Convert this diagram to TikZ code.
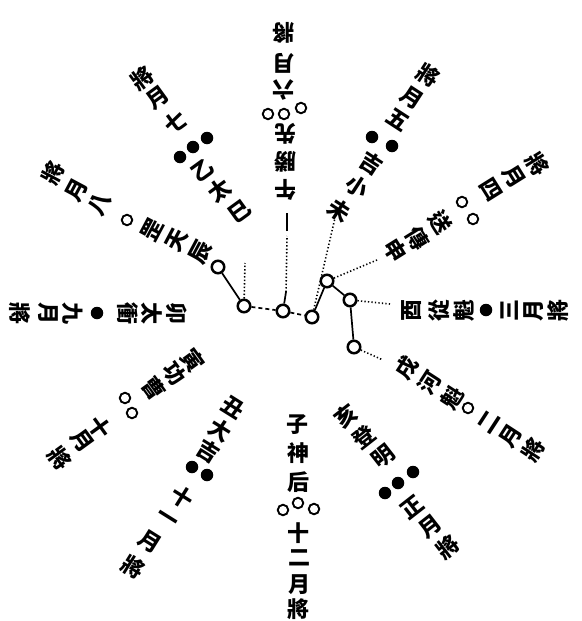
\documentclass[tikz,border=0pt]{standalone}
\usepackage{fontspec}
\newfontfamily\cjk{Noto Sans CJK TC}
\begin{document}
\begin{tikzpicture}[x=1pt,y=-1pt,
  ch/.style={font=\cjk\bfseries\fontsize{22}{22}\selectfont, inner sep=0pt, anchor=center},
  oc/.style={circle, draw, line width=1.9pt, minimum size=10.5pt, inner sep=0pt},
  fc/.style={circle, fill, minimum size=12.5pt, inner sep=0pt},
  cc/.style={circle, draw, line width=2.5pt, minimum size=12.5pt, inner sep=0pt, fill=white},
  solidln/.style={line width=1.7pt},
  dashln/.style={line width=1.7pt, dash pattern=on 4pt off 3pt},
  dotln/.style={line width=1.6pt, dash pattern=on 1.3pt off 2.2pt}]
\useasboundingbox (0,0) rectangle (581,621);
\fill[white] (0,0) rectangle (581,621);

% ---- rays of text ----
% 子 (bottom)
\foreach \c/\x/\y [count=\i] in {子/297/425,神/298/453,后/298/482,十/298/533,二/299/558,月/299/585,將/298/609}
  \node[ch,rotate=0] (zi\i) at (\x,\y) {\c};
\node[oc] (zio1) at (283,510) {};
\node[oc] (zio2) at (298,503) {};
\node[oc] (zio3) at (314,509) {};

% 丑
\foreach \c/\x/\y [count=\i] in {丑/233/407,大/220/430,吉/208/451,十/182/497,一/167/520,月/150/542,將/133/567}
  \node[ch,rotate=-32] (ch\i) at (\x,\y) {\c};
\node[fc] (chf1) at (192,467) {};
\node[fc] (chf2) at (207,475) {};

% 寅
\foreach \c/\x/\y [count=\i] in {寅/193/360,功/175/374,曹/154/388,十/100/427,月/82/441,將/60/458}
  \node[ch,rotate=-54] (yi\i) at (\x,\y) {\c};
\node[oc] (yio1) at (125,398) {};
\node[oc] (yio2) at (132,413) {};

% 卯
\foreach \c/\x/\y [count=\i] in {卯/177/313,太/152/313,衝/128/313,九/73/313,月/48/313,將/20/313}
  \node[ch,rotate=-90] (mao\i) at (\x,\y) {\c};
\node[fc] (maof1) at (97,313) {};

% 辰
\foreach \c/\x/\y [count=\i] in {辰/201/252,天/177/240,罡/152/230,八/100/204,月/77/190,將/53/173}
  \node[ch,rotate=62] (chen\i) at (\x,\y) {\c};
\node[oc] (cheno1) at (127,220) {};

% 巳
\foreach \c/\x/\y [count=\i] in {巳/240/212,太/220/190,乙/203/170,七/175/122,月/158/98,將/142/78}
  \node[ch,rotate=36] (si\i) at (\x,\y) {\c};
\node[fc] (sif1) at (180,157) {};
\node[fc] (sif2) at (193,147) {};
\node[fc] (sif3) at (207,138) {};

% 午 (top)
\foreach \c/\x/\y [count=\i] in {午/285/190,勝/285/162,先/285/134,六/283/90,月/283/63,將/283/33}
  \node[ch,rotate=180] (wu\i) at (\x,\y) {\c};
\node[oc] (wuo1) at (268,114) {};
\node[oc] (wuo2) at (284,114) {};
\node[oc] (wuo3) at (301,108) {};

% 未
\foreach \c/\x/\y [count=\i] in {未/339/210,小/357/187,吉/371/163,五/398/120,月/412/98,將/428/75}
  \node[ch,rotate=-33] (wei\i) at (\x,\y) {\c};
\node[fc] (weif1) at (372,137) {};
\node[fc] (weif2) at (392,146) {};

% 申
\foreach \c/\x/\y [count=\i] in {申/395/250,傳/417/238,送/440/222,四/491/190,月/514/177,將/537/164}
  \node[ch,rotate=-58] (shen\i) at (\x,\y) {\c};
\node[oc] (sheno1) at (462,202) {};
\node[oc] (sheno2) at (473,219) {};

% 酉
\foreach \c/\x/\y [count=\i] in {酉/412/310,從/439/310,魁/464/310,三/510/310,月/534/310,將/558/310}
  \node[ch,rotate=90] (you\i) at (\x,\y) {\c};
\node[fc] (youf1) at (486,310) {};

% 戌
\foreach \c/\x/\y [count=\i] in {戌/407/368,河/430/383,魁/452/398,二/489/422,月/511/436,將/533/450}
  \node[ch,rotate=57] (xu\i) at (\x,\y) {\c};
\node[oc] (xuo1) at (468,408) {};

% 亥
\foreach \c/\x/\y [count=\i] in {亥/346/416,登/364/437,明/383/457,正/412/507,月/430/527,將/448/547}
  \node[ch,rotate=38] (hai\i) at (\x,\y) {\c};
\node[fc] (haif1) at (413,472) {};
\node[fc] (haif2) at (398,483) {};
\node[fc] (haif3) at (385,493) {};

% ---- central figure ----
\node[cc] (p1) at (218,267) {};
\node[cc] (pb) at (244,306) {};
\node[cc] (pc) at (283,311) {};
\node[cc] (pd) at (312,317) {};
\node[cc] (pe) at (327,281) {};
\node[cc] (pf) at (350,300) {};
\node[cc] (pg) at (354,347) {};

\coordinate (bt) at (245,263);
\coordinate (cs) at (286,292);
\coordinate (ct) at (287,236);
\coordinate (ch1) at (287,231);
\coordinate (ch2) at (287,213);
\coordinate (dt) at (335,218);
\coordinate (et) at (377,260);
\coordinate (ft) at (390,304);
\coordinate (gt) at (383,360);

\draw[solidln] (p1) -- (pb);
\draw[dashln] (pb) -- (pc);
\draw[dashln] (pc) -- (pd);
\draw[solidln] (pd) -- (pe);
\draw[solidln] (pe) -- (pf);
\draw[solidln] (pf) -- (pg);

\draw[dotln] (pb) -- (bt);
\draw[solidln] (pc) -- (cs);
\draw[dotln] (cs) -- (ct);
\draw[line width=2.5pt] (ch1) -- (ch2);
\draw[dotln] (pd) -- (dt);
\draw[dotln] (pe) -- (et);
\draw[dotln] (pf) -- (ft);
\draw[dotln] (pg) -- (gt);
\end{tikzpicture}
\end{document}
